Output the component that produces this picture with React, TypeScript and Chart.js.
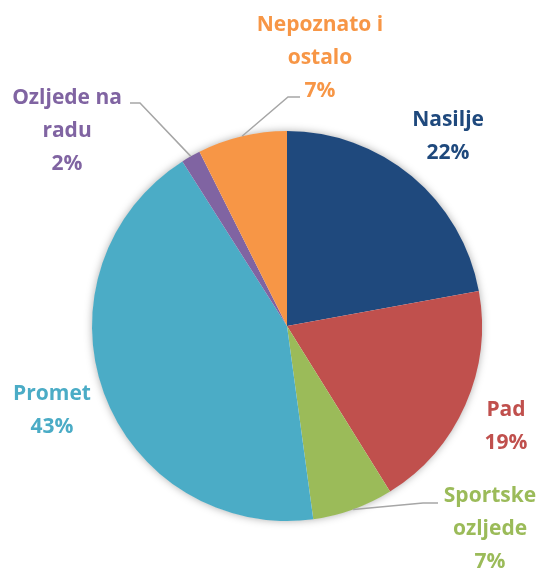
import React, { useEffect, useRef } from "react";
import { Chart, registerables } from "chart.js";

Chart.register(...registerables);

const categories = ["Nasilje", "Pad", "Sportske ozljede", "Promet", "Ozljede na radu", "Nepoznato i ostalo"];
const values = [22.1, 19.0, 6.7, 43.1, 1.6, 7.4];
const labelLines = [["Nasilje"], ["Pad"], ["Sportske", "ozljede"], ["Promet"], ["Ozljede na", "radu"], ["Nepoznato i", "ostalo"]];
const colors = ["#1F497D", "#C0504D", "#9BBB59", "#4BACC6", "#8064A2", "#F79646"];

// label centres relative to pie centre, in radius units
const labelPos: [number, number][] = [
  [0.826, -0.974],
  [1.123, 0.518],
  [1.041, 1.041],
  [-1.205, 0.431],
  [-1.128, -1.0],
  [0.169, -1.374],
];
// leader lines: [start, elbow] relative to centre, radius units (null = none)
const leaders: ([number, number][] | null)[] = [
  null,
  null,
  [[151 / 195, 177 / 195], [136 / 195, 177 / 195]],
  null,
  [[-157 / 195, -223 / 195], [-147 / 195, -223 / 195]],
  [[13 / 195, -229 / 195], [1 / 195, -229 / 195]],
];

const FONT = "bold 21px 'Open Sans', sans-serif";
const LINE_H = 33;

const labelPlugin = {
  id: "pieLabels",
  beforeDatasetsDraw(chart: any) {
    const meta = chart.getDatasetMeta(0);
    const arc = meta.data[0];
    if (!arc) return;
    const { x, y, outerRadius } = arc.getProps(["x", "y", "outerRadius"], true);
    const ctx = chart.ctx;
    ctx.save();
    ctx.shadowColor = "rgba(0,0,0,0.35)";
    ctx.shadowBlur = 9;
    ctx.fillStyle = "#ffffff";
    ctx.beginPath();
    ctx.arc(x, y, outerRadius - 0.5, 0, Math.PI * 2);
    ctx.fill();
    ctx.restore();
  },
  afterDatasetsDraw(chart: any) {
    const meta = chart.getDatasetMeta(0);
    const ctx = chart.ctx;
    const total = values.reduce((a, b) => a + b, 0);
    ctx.save();
    meta.data.forEach((el: any, i: number) => {
      const { x, y, outerRadius, startAngle, endAngle } = el.getProps(
        ["x", "y", "outerRadius", "startAngle", "endAngle"],
        true
      );
      const r = outerRadius;
      const ld = leaders[i];
      if (ld) {
        const mid = (startAngle + endAngle) / 2;
        const ex = x + Math.cos(mid) * r;
        const ey = y + Math.sin(mid) * r;
        ctx.strokeStyle = "#A6A6A6";
        ctx.lineWidth = 1.5;
        ctx.beginPath();
        ctx.moveTo(x + ld[0][0] * r, y + ld[0][1] * r);
        ctx.lineTo(x + ld[1][0] * r, y + ld[1][1] * r);
        ctx.lineTo(ex, ey);
        ctx.stroke();
      }
      const pct = Math.round((values[i] / total) * 100) + "%";
      const lines = [...labelLines[i], pct];
      const cx = x + labelPos[i][0] * r;
      const cy = y + labelPos[i][1] * r;
      ctx.font = FONT;
      ctx.fillStyle = colors[i];
      ctx.textAlign = "center";
      ctx.textBaseline = "middle";
      const y0 = cy - ((lines.length - 1) * LINE_H) / 2;
      lines.forEach((t, k) => ctx.fillText(t, cx, y0 + k * LINE_H));
    });
    ctx.restore();
  },
};

export default function App() {
  const ref = useRef<HTMLCanvasElement>(null);
  useEffect(() => {
    if (!ref.current) return;
    const chart = new Chart(ref.current, {
      type: "pie",
      data: {
        labels: categories,
        datasets: [
          {
            data: values,
            backgroundColor: colors,
            borderWidth: 0,
          },
        ],
      },
      options: {
        animation: false,
        responsive: false,
        layout: { padding: { left: 92, right: 59, top: 131, bottom: 49 } },
        plugins: { legend: { display: false }, tooltip: { enabled: false } },
      },
      plugins: [labelPlugin],
    });
    return () => chart.destroy();
  }, []);
  return (
    <div style={{ position: "absolute", left: 0, top: 0, width: 541, height: 570, background: "#fff" }}>
      <canvas ref={ref} width={541} height={570} style={{ display: "block" }} />
    </div>
  );
}
